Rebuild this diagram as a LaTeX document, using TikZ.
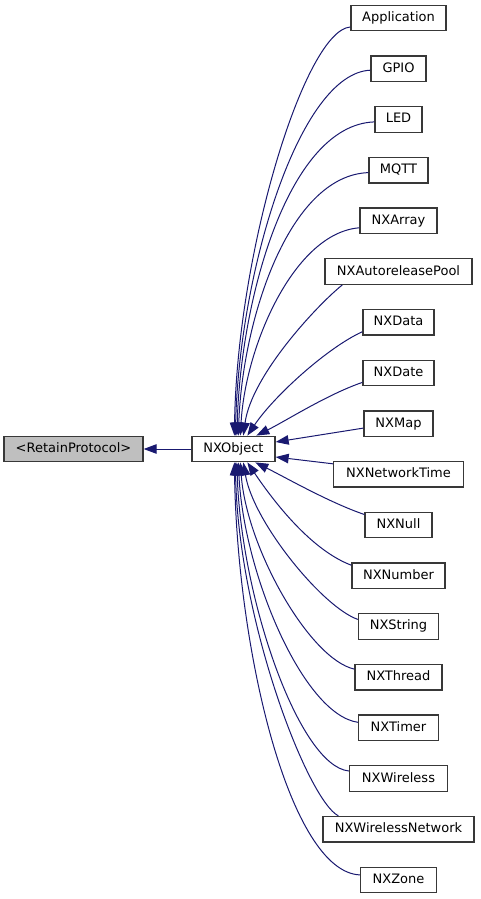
\documentclass[tikz,border=0pt]{standalone}
\usepackage{fontspec}
\setmainfont{DejaVu Sans}
\usetikzlibrary{arrows.meta}
\definecolor{edgeblue}{HTML}{191970}
\definecolor{boxline}{HTML}{383838}
\definecolor{boxgray}{HTML}{BFBFBF}
\begin{document}
\begin{tikzpicture}[x=1pt,y=-1pt,
  cls/.style={draw=boxline, line width=1.3pt, fill=white, minimum height=25.5pt,
    inner xsep=0pt, inner ysep=0pt, font=\fontsize{13}{15}\selectfont,
    text height=9.5pt, text depth=2.5pt},
  inh/.style={draw=edgeblue, line width=1pt, -{Triangle[length=13pt,width=9.5pt]}}]
\useasboundingbox (0,0) rectangle (480,899);
\node[cls, fill=boxgray, minimum width=139pt] (rp) at (73.5,449) {<RetainProtocol>};
\node[cls, minimum width=83pt] (obj) at (233.5,449) {NXObject};
\node[cls, minimum width=95pt] (app) at (398.5,18) {Application};
\node[cls, minimum width=55pt] (gpio) at (398.5,68.7) {GPIO};
\node[cls, minimum width=47pt] (led) at (398.5,119.4) {LED};
\node[cls, minimum width=59pt] (mqtt) at (398.5,170.1) {MQTT};
\node[cls, minimum width=77pt] (arr) at (398.5,220.8) {NXArray};
\node[cls, minimum width=147pt] (pool) at (398.5,271.5) {NXAutoreleasePool};
\node[cls, minimum width=71pt] (data) at (398.5,322.2) {NXData};
\node[cls, minimum width=71pt] (date) at (398.5,372.9) {NXDate};
\node[cls, minimum width=69pt] (map) at (398.5,423.6) {NXMap};
\node[cls, minimum width=130pt] (nt) at (398.5,474.3) {NXNetworkTime};
\node[cls, minimum width=67pt] (null) at (398.5,525) {NXNull};
\node[cls, minimum width=93pt] (num) at (398.5,575.7) {NXNumber};
\node[cls, minimum width=80pt] (str) at (398.5,626.4) {NXString};
\node[cls, minimum width=87pt] (thr) at (398.5,677.1) {NXThread};
\node[cls, minimum width=80pt] (tim) at (398.5,727.8) {NXTimer};
\node[cls, minimum width=98pt] (wl) at (398.5,778.5) {NXWireless};
\node[cls, minimum width=151pt] (wn) at (398.5,829.2) {NXWirelessNetwork};
\node[cls, minimum width=76pt] (zone) at (398.5,879.9) {NXZone};

\draw[inh] (obj) -- (rp);

\draw[inh] ([yshift=-9pt]app.west) .. controls +(-45,3) and +(3,-186) .. ([xshift=43pt]obj.north west);
\draw[inh] ([yshift=-1.5pt]gpio.west) .. controls +(-71,3) and +(4,-165) .. ([xshift=44pt]obj.north west);
\draw[inh] ([yshift=-2.5pt]led.west) .. controls +(-85,3) and +(4,-140) .. ([xshift=45.5pt]obj.north west);
\draw[inh] ([yshift=-2.5pt]mqtt.west) .. controls +(-80,3) and +(4,-115) .. ([xshift=47pt]obj.north west);
\draw[inh] ([yshift=-7pt]arr.west) .. controls +(-65,5) and +(5,-90) .. ([xshift=49pt]obj.north west);
\draw[inh] ([xshift=18pt]pool.south west) .. controls +(-25,20) and +(8,-60) .. ([xshift=52pt]obj.north west);
\draw[inh] ([yshift=-9.5pt]data.west) .. controls +(-35,16) and +(27,-40) .. ([xshift=56pt]obj.north west);
\draw[inh] ([yshift=-9.5pt]date.west) .. controls +(-35,12) and +(30,-15) .. ([xshift=65pt]obj.north west);
\draw[inh] ([yshift=-4.5pt]map.west) -- ([yshift=7pt]obj.east);
\draw[inh] ([yshift=10.5pt]nt.west) -- ([yshift=-8pt]obj.east);
\draw[inh] ([yshift=10.5pt]null.west) .. controls +(-35,-12) and +(30,15) .. ([xshift=64pt]obj.south west);
\draw[inh] ([yshift=10.5pt]num.west) .. controls +(-40,-15) and +(27,40) .. ([xshift=56pt]obj.south west);
\draw[inh] ([yshift=7pt]str.west) .. controls +(-35,-12) and +(10,60) .. ([xshift=52pt]obj.south west);
\draw[inh] ([yshift=8pt]thr.west) .. controls +(-45,-10) and +(6,85) .. ([xshift=49pt]obj.south west);
\draw[inh] ([yshift=5.5pt]tim.west) .. controls +(-55,-8) and +(5,110) .. ([xshift=47pt]obj.south west);
\draw[inh] ([yshift=7.5pt]wl.west) .. controls +(-50,-5) and +(4,135) .. ([xshift=45.5pt]obj.south west);
\draw[inh] ([xshift=16pt]wn.north west) .. controls +(-30,-15) and +(3,160) .. ([xshift=44pt]obj.south west);
\draw[inh] ([yshift=5pt]zone.west) .. controls +(-70,-3) and +(3,190) .. ([xshift=43pt]obj.south west);
\end{tikzpicture}
\end{document}
